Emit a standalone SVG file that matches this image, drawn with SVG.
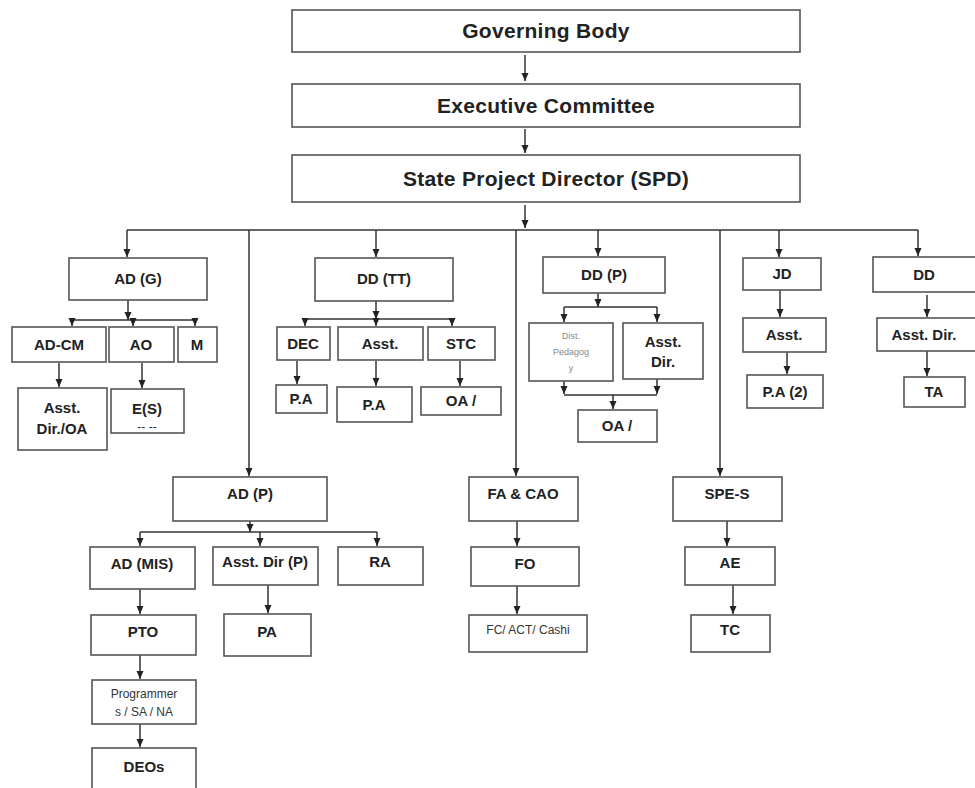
<svg xmlns="http://www.w3.org/2000/svg" width="975" height="788" viewBox="0 0 975 788">
<defs>
<marker id="ar" markerUnits="userSpaceOnUse" markerWidth="8" markerHeight="8" viewBox="0 0 8 8" refX="8" refY="4" orient="auto">
<path d="M0,0.5 L8,4 L0,7.5 Z" fill="#222"/>
</marker>
</defs>
<style>
rect{fill:#fff;stroke:#555;stroke-width:1.6}
text{font-family:"Liberation Sans",Arial,sans-serif;font-weight:bold;fill:#222;text-anchor:middle}
.big{font-size:21px;letter-spacing:0.3px}
.n{font-size:15px}
.s{font-size:12px;font-weight:normal;fill:#333}
.lt{font-size:9px;font-weight:normal;fill:#888}
.c line{stroke:#333;stroke-width:1.5;fill:none}
.c .a{marker-end:url(#ar)}
</style>
<rect x="0" y="0" width="975" height="788" style="fill:#fff;stroke:none"/>
<g class="c" id="connectors">
<line class="a" x1="525" y1="55" x2="525" y2="81"/>
<line class="a" x1="525" y1="129" x2="525" y2="153"/>
<line class="a" x1="525" y1="205" x2="525" y2="228"/>
<line x1="127" y1="230" x2="918" y2="230"/>
<line class="a" x1="127" y1="230" x2="127" y2="257"/>
<line class="a" x1="249" y1="230" x2="249" y2="476"/>
<line class="a" x1="376" y1="230" x2="376" y2="257"/>
<line class="a" x1="516" y1="230" x2="516" y2="476"/>
<line class="a" x1="598" y1="230" x2="598" y2="256"/>
<line class="a" x1="720" y1="230" x2="720" y2="476"/>
<line class="a" x1="779" y1="230" x2="779" y2="257"/>
<line class="a" x1="918" y1="230" x2="918" y2="256"/>
<line class="a" x1="128" y1="300" x2="128" y2="320"/>
<line x1="72" y1="320" x2="195" y2="320"/>
<line class="a" x1="72" y1="320" x2="72" y2="326"/>
<line class="a" x1="133" y1="320" x2="133" y2="326"/>
<line class="a" x1="195" y1="320" x2="195" y2="326"/>
<line class="a" x1="59" y1="363" x2="59" y2="387"/>
<line class="a" x1="142" y1="363" x2="142" y2="388"/>
<line class="a" x1="376" y1="301" x2="376" y2="319"/>
<line x1="305" y1="319" x2="452" y2="319"/>
<line class="a" x1="305" y1="319" x2="305" y2="326"/>
<line class="a" x1="376" y1="319" x2="376" y2="326"/>
<line class="a" x1="452" y1="319" x2="452" y2="326"/>
<line class="a" x1="297" y1="361" x2="297" y2="384"/>
<line class="a" x1="376" y1="361" x2="376" y2="386"/>
<line class="a" x1="460" y1="361" x2="460" y2="386"/>
<line class="a" x1="598" y1="293" x2="598" y2="307"/>
<line x1="564" y1="307" x2="657" y2="307"/>
<line class="a" x1="564" y1="307" x2="564" y2="322"/>
<line class="a" x1="657" y1="307" x2="657" y2="322"/>
<line class="a" x1="564" y1="381" x2="564" y2="394"/>
<line class="a" x1="657" y1="379" x2="657" y2="394"/>
<line x1="564" y1="395" x2="657" y2="395"/>
<line class="a" x1="613" y1="395" x2="613" y2="409"/>
<line class="a" x1="780" y1="290" x2="780" y2="317"/>
<line class="a" x1="787" y1="352" x2="787" y2="374"/>
<line class="a" x1="927" y1="295" x2="927" y2="317"/>
<line class="a" x1="927" y1="351" x2="927" y2="376"/>
<line class="a" x1="250" y1="521" x2="250" y2="532"/>
<line x1="140" y1="532" x2="377" y2="532"/>
<line class="a" x1="140" y1="532" x2="140" y2="546"/>
<line class="a" x1="260" y1="532" x2="260" y2="546"/>
<line class="a" x1="377" y1="532" x2="377" y2="546"/>
<line class="a" x1="140" y1="589" x2="140" y2="614"/>
<line class="a" x1="268" y1="585" x2="268" y2="613"/>
<line class="a" x1="140" y1="655" x2="140" y2="679"/>
<line class="a" x1="140" y1="724" x2="140" y2="747"/>
<line class="a" x1="517" y1="521" x2="517" y2="546"/>
<line class="a" x1="517" y1="586" x2="517" y2="614"/>
<line class="a" x1="727" y1="521" x2="727" y2="546"/>
<line class="a" x1="733" y1="585" x2="733" y2="614"/>
</g>
<g id="governing-body"><rect x="292" y="10" width="508" height="42"/><text class="big" x="546" y="38">Governing Body</text></g>
<g id="executive-committee"><rect x="292" y="84" width="508" height="43"/><text class="big" x="546" y="113">Executive Committee</text></g>
<g id="spd"><rect x="292" y="155" width="508" height="47"/><text class="big" x="546" y="186">State Project Director (SPD)</text></g>
<g id="adg"><rect x="69" y="258" width="138" height="42"/><text class="n" x="138" y="284">AD (G)</text></g>
<g id="adcm"><rect x="12" y="327" width="94" height="35"/><text class="n" x="59" y="350">AD-CM</text></g>
<g id="ao"><rect x="109" y="327" width="65" height="35"/><text class="n" x="141" y="350">AO</text></g>
<g id="m"><rect x="178" y="327" width="39" height="35"/><text class="n" x="197" y="350">M</text></g>
<g id="asstdir-oa"><rect x="18" y="388" width="89" height="62"/><text class="n" x="62" y="413">Asst.</text><text class="n" x="62" y="434">Dir./OA</text></g>
<g id="es"><rect x="111" y="389" width="73" height="44"/><text class="n" x="147" y="414">E(S)</text><text class="s" x="147" y="431">-- --</text></g>
<g id="ddtt"><rect x="315" y="258" width="138" height="43"/><text class="n" x="384" y="284">DD (TT)</text></g>
<g id="dec"><rect x="277" y="327" width="53" height="33"/><text class="n" x="303" y="349">DEC</text></g>
<g id="asst-tt"><rect x="338" y="327" width="85" height="33"/><text class="n" x="380" y="349">Asst.</text></g>
<g id="stc"><rect x="428" y="327" width="67" height="33"/><text class="n" x="461" y="349">STC</text></g>
<g id="pa1"><rect x="276" y="385" width="51" height="28"/><text class="n" x="301" y="404">P.A</text></g>
<g id="pa2"><rect x="337" y="387" width="75" height="35"/><text class="n" x="374" y="410">P.A</text></g>
<g id="oa-tt"><rect x="421" y="387" width="80" height="28"/><text class="n" x="461" y="406">OA /</text></g>
<g id="ddp"><rect x="543" y="257" width="122" height="36"/><text class="n" x="604" y="280">DD (P)</text></g>
<g id="dist-ped"><rect x="529" y="323" width="84" height="58"/><text class="lt" x="571" y="339">Dist.</text><text class="lt" x="571" y="355">Pedagog</text><text class="lt" x="571" y="371">y</text></g>
<g id="asst-dir-p"><rect x="623" y="323" width="80" height="56"/><text class="n" x="663" y="347">Asst.</text><text class="n" x="663" y="367">Dir.</text></g>
<g id="oa-p"><rect x="578" y="410" width="79" height="32"/><text class="n" x="617" y="431">OA /</text></g>
<g id="jd"><rect x="743" y="258" width="78" height="32"/><text class="n" x="782" y="279">JD</text></g>
<g id="asst-jd"><rect x="743" y="318" width="83" height="34"/><text class="n" x="784" y="340">Asst.</text></g>
<g id="pa-2"><rect x="747" y="375" width="76" height="33"/><text class="n" x="785" y="397">P.A (2)</text></g>
<g id="dd"><rect x="873" y="257" width="104" height="35"/><text class="n" x="924" y="280">DD</text></g>
<g id="asst-dir-dd"><rect x="877" y="318" width="100" height="33"/><text class="n" x="924" y="340">Asst. Dir.</text></g>
<g id="ta"><rect x="904" y="377" width="61" height="30"/><text class="n" x="934" y="397">TA</text></g>
<g id="adp"><rect x="173" y="477" width="154" height="44"/><text class="n" x="250" y="499">AD (P)</text></g>
<g id="admis"><rect x="90" y="547" width="105" height="42"/><text class="n" x="142" y="569">AD (MIS)</text></g>
<g id="asst-dir-pp"><rect x="213" y="547" width="105" height="38"/><text class="n" x="265" y="567">Asst. Dir (P)</text></g>
<g id="ra"><rect x="338" y="547" width="85" height="38"/><text class="n" x="380" y="567">RA</text></g>
<g id="pto"><rect x="91" y="615" width="105" height="40"/><text class="n" x="143" y="637">PTO</text></g>
<g id="pa"><rect x="224" y="614" width="87" height="42"/><text class="n" x="267" y="637">PA</text></g>
<g id="programmers"><rect x="92" y="680" width="104" height="44"/><text class="s" x="144" y="698">Programmer</text><text class="s" x="144" y="716">s / SA / NA</text></g>
<g id="deos"><rect x="92" y="748" width="104" height="45"/><text class="n" x="144" y="772">DEOs</text></g>
<g id="facao"><rect x="469" y="477" width="109" height="44"/><text class="n" x="523" y="499">FA &amp; CAO</text></g>
<g id="fo"><rect x="471" y="547" width="108" height="39"/><text class="n" x="525" y="569">FO</text></g>
<g id="fc"><rect x="469" y="615" width="118" height="37"/><text class="s" x="528" y="634">FC/ ACT/ Cashi</text></g>
<g id="spes"><rect x="673" y="477" width="109" height="44"/><text class="n" x="727" y="499">SPE-S</text></g>
<g id="ae"><rect x="685" y="547" width="90" height="38"/><text class="n" x="730" y="568">AE</text></g>
<g id="tc"><rect x="691" y="615" width="79" height="37"/><text class="n" x="730" y="635">TC</text></g>
</svg>
